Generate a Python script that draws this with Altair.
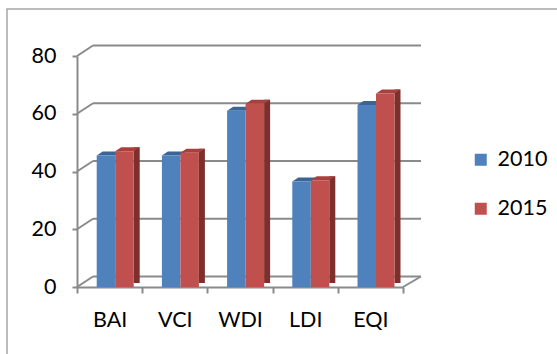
import altair as alt
import pandas as pd

categories = ["BAI", "VCI", "WDI", "LDI", "EQI"]
series = ["2010", "2015"]
values_2010 = [45.5, 45.5, 61, 36.5, 63]
values_2015 = [47, 46.5, 63.5, 37, 67]
y_ticks = [0, 20, 40, 60, 80]

rows = []
for c, a, b in zip(categories, values_2010, values_2015):
    rows.append({"cat": c, "series": "2010", "value": a})
    rows.append({"cat": c, "series": "2015", "value": b})
df = pd.DataFrame(rows)
grid_df = pd.DataFrame({"v": y_ticks})
one = pd.DataFrame({"v": [0]})

W, H = 326, 231
FONT = "Lato"
FS = 21.5
GRID = "#8a8a8a"
BLUE, RED = "#4f81bd", "#c0504d"
BLUE_TOP, RED_TOP, RED_SIDE = "#3b6596", "#a8403d", "#7d2f2d"
BAR_W = 18.5
OFF_B, OFF_R = -3.65, 14.85
DEPTH = 10.5

x_enc = alt.X("cat:N", sort=categories,
              scale=alt.Scale(paddingInner=0, paddingOuter=0),
              axis=alt.Axis(title=None, labelAngle=0, tickBand="extent",
                            tickSize=6, tickColor=GRID, tickWidth=2,
                            domainColor=GRID, domainWidth=2,
                            labelFont=FONT, labelFontSize=FS, labelColor="#000000",
                            labelPadding=16))
y_enc = alt.Y("value:Q", scale=alt.Scale(domain=[0, 80], nice=False),
              axis=alt.Axis(title=None, values=y_ticks, grid=False,
                            tickSize=5, tickColor=GRID, tickWidth=2,
                            domainColor=GRID, domainWidth=2,
                            labelFont=FONT, labelFontSize=FS, labelColor="#000000",
                            labelPadding=16))
y_plain = alt.Y("value:Q", scale=alt.Scale(domain=[0, 80], nice=False))

color_enc = alt.Color("series:N", scale=alt.Scale(domain=series, range=[BLUE, RED]),
                      legend=alt.Legend(title=None, orient="none", legendX=393, legendY=93,
                                        symbolType="square", symbolSize=144,
                                        symbolStrokeWidth=0, labelFont=FONT,
                                        labelFontSize=FS, labelColor="#000000",
                                        labelOffset=6, rowPadding=26, padding=0))

frame = alt.Chart(one).mark_rect(fillOpacity=0, stroke="#a6a6a6", strokeWidth=1.5).encode(
    x=alt.value(-70), x2=alt.value(600), y=alt.value(-47), y2=alt.value(400))

back_grid = alt.Chart(grid_df).mark_rule(color=GRID, strokeWidth=2, yOffset=-DEPTH).encode(
    y=alt.Y("v:Q", scale=alt.Scale(domain=[0, 80], nice=False)),
    x=alt.value(16), x2=alt.value(W + 18))
left_diag = alt.Chart(grid_df).mark_rule(color=GRID, strokeWidth=2, y2Offset=-DEPTH).encode(
    y=alt.Y("v:Q", scale=alt.Scale(domain=[0, 80], nice=False)), y2="v:Q",
    x=alt.value(0), x2=alt.value(16))
right_diag = alt.Chart(one).mark_rule(color=GRID, strokeWidth=2, y2Offset=-DEPTH).encode(
    y=alt.Y("v:Q", scale=alt.Scale(domain=[0, 80], nice=False)), y2="v:Q",
    x=alt.value(W), x2=alt.value(W + 18))

base = alt.Chart(df)
d10 = base.transform_filter(alt.datum.series == "2010")
d15 = base.transform_filter(alt.datum.series == "2015")

cap_path = "M -9.25 0 L 9.25 0 L 15.25 -4 L -3.25 -4 Z"

red_side = d15.mark_bar(color=RED_SIDE, width=6, xOffset=OFF_R + BAR_W / 2 + 3,
                        yOffset=-4, y2Offset=-4).encode(x=x_enc, y=y_plain)
blue_cap = d10.mark_point(shape=cap_path, size=4, filled=True, opacity=1, strokeWidth=0,
                          color=BLUE_TOP, xOffset=OFF_B).encode(x=x_enc, y=y_plain)
red_cap = d15.mark_point(shape=cap_path, size=4, filled=True, opacity=1, strokeWidth=0,
                         color=RED_TOP, xOffset=OFF_R).encode(x=x_enc, y=y_plain)
blue_bar = d10.mark_bar(width=BAR_W, xOffset=OFF_B).encode(x=x_enc, y=y_enc, color=color_enc)
red_bar = d15.mark_bar(width=BAR_W, xOffset=OFF_R).encode(x=x_enc, y=y_enc, color=color_enc)

chart = alt.layer(frame, back_grid, left_diag, right_diag, red_side, blue_cap, red_cap,
                  blue_bar, red_bar).properties(
    width=W, height=H,
    autosize=alt.AutoSizeParams(type="none"),
    padding={"left": 77, "top": 56, "right": 154, "bottom": 67},
    background="white",
).configure_view(stroke=None)

chart.save("out.html", embed_options={"renderer": "svg", "actions": False})
